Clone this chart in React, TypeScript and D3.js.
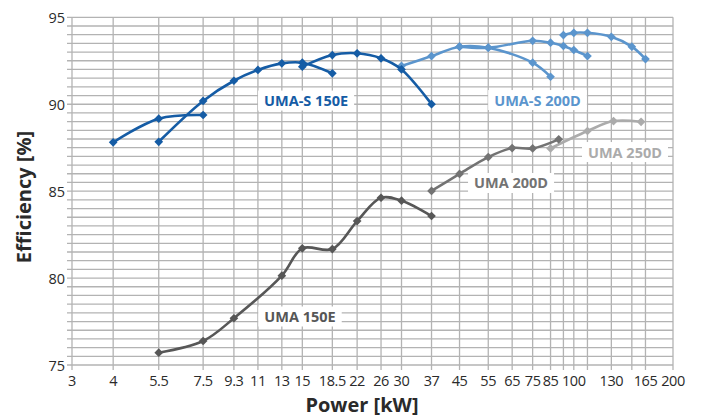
import React, { useLayoutEffect, useRef } from 'react';
import * as d3 from 'd3';

const W = 702;
const H = 419;

// x grid values (kW) and which ones carry a label
const xGridValues = [3, 4, 5.5, 7.5, 9.3, 11, 13, 15, 18.5, 22, 26, 30, 37, 45, 55, 65, 75, 85, 93, 100, 110, 130, 150, 165, 200];
const xLabelValues = [3, 4, 5.5, 7.5, 9.3, 11, 13, 15, 18.5, 22, 26, 30, 37, 45, 55, 65, 75, 85, 100, 130, 165, 200];
const yTickValues = [75, 80, 85, 90, 95];

// UMA-S 150E
const umaS150E_a: [number, number][] = [[4, 87.81], [5.5, 89.17], [7.5, 89.38]];
const umaS150E_b: [number, number][] = [[5.5, 87.84], [7.5, 90.19], [9.3, 91.35], [11, 91.97], [13, 92.35], [15, 92.39], [18.5, 91.78]];
const umaS150E_c: [number, number][] = [[15, 92.16], [18.5, 92.83], [22, 92.93], [26, 92.64], [30, 92.0], [37, 90.0]];
// UMA-S 200D
const umaS200D_a: [number, number][] = [[30, 92.2], [37, 92.77], [45, 93.31], [55, 93.25], [75, 92.39], [85, 91.58]];
const umaS200D_b: [number, number][] = [[45, 93.31], [55, 93.25], [75, 93.65], [85, 93.54], [93, 93.35], [100, 93.12], [110, 92.77]];
const umaS200D_c: [number, number][] = [[93, 93.98], [100, 94.11], [110, 94.11], [130, 93.88], [150, 93.31], [165, 92.6]];
// UMA 200D
const uma200D: [number, number][] = [[37, 85.01], [45, 85.99], [55, 86.96], [65, 87.48], [75, 87.46], [90, 87.98]];
// UMA 250D
const uma250D: [number, number][] = [[85, 87.46], [110, 88.46], [132, 89.03], [160, 88.99]];
// UMA 150E
const uma150E: [number, number][] = [[5.5, 75.71], [7.5, 76.38], [9.3, 77.69], [13, 80.14], [15, 81.71], [18.5, 81.67], [22, 83.28], [26, 84.62], [30, 84.45], [37, 83.57]];

const seriesList = [
  { name: 'UMA 150E', color: '#575757', curves: [uma150E], label: { kw: 14.76, eff: 77.79 } },
  { name: 'UMA 250D', color: '#ababab', curves: [uma250D], label: { kw: 143, eff: 87.25 } },
  { name: 'UMA 200D', color: '#737373', curves: [uma200D], label: { kw: 64.5, eff: 85.47 } },
  { name: 'UMA-S 200D', color: '#5b95cd', curves: [umaS200D_a, umaS200D_b, umaS200D_c], label: { kw: 77.6, eff: 90.24 } },
  { name: 'UMA-S 150E', color: '#155ca5', curves: [umaS150E_a, umaS150E_b, umaS150E_c], label: { kw: 15.4, eff: 90.21 } },
];

const FONT = '"Open Sans", "DejaVu Sans", sans-serif';

export default function App() {
  const x = d3.scaleLog().domain([3, 200]).range([72, 673]);
  const y = d3.scaleLinear().domain([75, 95]).range([365, 17.3]);
  const yGrid = d3.range(75, 95.001, 0.5);
  const line = d3
    .line<[number, number]>()
    .x((d) => x(d[0]))
    .y((d) => y(d[1]))
    .curve(d3.curveCatmullRom.alpha(0.5));
  const diamond = d3.symbol(d3.symbolSquare, 38)() as string;

  const textRefs = useRef<(SVGTextElement | null)[]>([]);
  const rectRefs = useRef<(SVGRectElement | null)[]>([]);

  useLayoutEffect(() => {
    textRefs.current.forEach((t, i) => {
      const r = rectRefs.current[i];
      if (!t || !r) return;
      const b = t.getBBox();
      r.setAttribute('x', String(b.x - 6));
      r.setAttribute('y', String(y(seriesList[i].label.eff) - 10));
      r.setAttribute('width', String(b.width + 12));
      r.setAttribute('height', '20');
    });
  }, []);

  const gridColor = '#b3b3b3';

  return (
    <svg width={W} height={H} style={{ display: 'block', position: 'absolute', left: 0, top: 0 }} fontFamily={FONT}>
      <rect x={0} y={0} width={W} height={H} fill="#fff" />
      {/* horizontal grid */}
      {yGrid.map((v) => (
        <line key={'h' + v} x1={67} x2={x(200)} y1={y(v)} y2={y(v)} stroke={gridColor} strokeWidth={1.3} />
      ))}
      {/* vertical grid */}
      {xGridValues.map((v) => (
        <line key={'v' + v} x1={x(v)} x2={x(v)} y1={y(95)} y2={y(75) + 5} stroke={gridColor} strokeWidth={1.3} />
      ))}
      {/* y tick labels */}
      {yTickValues.map((v) => (
        <text key={'yt' + v} x={65} y={y(v)} textAnchor="end" dominantBaseline="central" fontSize={14.5} fill="#2a2a2a">
          {v}
        </text>
      ))}
      {/* x tick labels */}
      {xLabelValues.map((v) => (
        <text key={'xt' + v} x={x(v)} y={380} textAnchor="middle" dominantBaseline="central" fontSize={14.5} fill="#2a2a2a" letterSpacing={-0.4}>
          {v}
        </text>
      ))}
      {/* axis titles */}
      <text x={362} y={412} textAnchor="middle" fontSize={20} fontWeight="bold" fill="#2a2a2a">
        Power [kW]
      </text>
      <text transform={`translate(31, 197) rotate(-90)`} textAnchor="middle" fontSize={20} fontWeight="bold" fill="#2a2a2a">
        Efficiency [%]
      </text>
      {/* series */}
      {seriesList.map((s) => (
        <g key={s.name}>
          {s.curves.map((c, ci) => (
            <path key={ci} d={line(c) as string} fill="none" stroke={s.color} strokeWidth={2.6} />
          ))}
          {s.curves.map((c, ci) =>
            c.map((d, di) => (
              <path key={ci + '-' + di} d={diamond} transform={`translate(${x(d[0])},${y(d[1])}) rotate(45)`} fill={s.color} />
            ))
          )}
        </g>
      ))}
      {/* labels */}
      {seriesList.map((s, i) => (
        <g key={'lab' + s.name}>
          <rect ref={(el) => { rectRefs.current[i] = el; }} fill="#fff" />
          <text
            ref={(el) => { textRefs.current[i] = el; }}
            x={x(s.label.kw)}
            y={y(s.label.eff)}
            textAnchor="middle"
            dominantBaseline="central"
            fontSize={14.5}
            fontWeight="bold"
            fill={s.color}
          >
            {s.name}
          </text>
        </g>
      ))}
    </svg>
  );
}
